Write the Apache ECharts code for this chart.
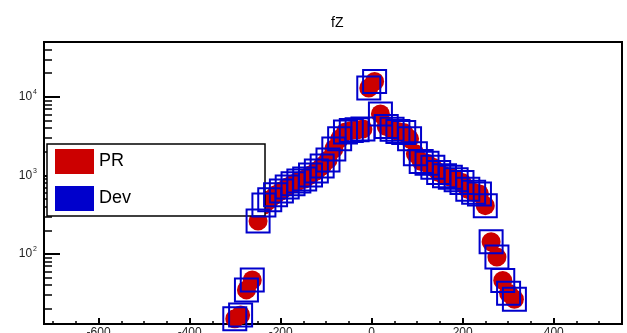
<!DOCTYPE html>
<html>
<head>
<meta charset="utf-8">
<script src="https://cdn.jsdelivr.net/npm/echarts@6/dist/echarts.min.js"></script>
<style>html,body{margin:0;padding:0;background:#fff}#c{width:627px;height:333px}</style>
</head>
<body>
<div id="c"></div>
<script>
// bin centres (fZ)
var binCenters = [-300.8, -288, -275.2, -262.4, -249.6, -236.8, -224, -211.2, -198.4, -185.6, -172.8, -160, -147.2, -134.4, -121.6, -108.8, -96, -83.2, -70.4, -57.6, -44.8, -32, -19.2, -6.4,
  6.4, 19.2, 32, 44.8, 57.6, 70.4, 83.2, 96, 108.8, 121.6, 134.4, 147.2, 160, 172.8, 185.6, 198.4, 211.2, 224, 236.8, 249.6, 262.4, 275.2, 288, 300.8, 313.6];
var prValues = [14.9, 16.7, 34.8, 46.6, 263, 420, 490, 565, 635, 714, 780, 851, 901, 1014, 1140, 1320, 1575, 2170, 2920, 3580, 3740, 3800, 3910, 13000,
  15700, 6070, 4190, 3880, 3620, 3510, 2920, 1880, 1500, 1430, 1270, 1086, 986, 949, 877, 810, 667, 611, 581, 412, 143, 91, 46, 31.6, 26.5];
var devValues = [14.9, 16.7, 34.8, 46.6, 263, 420, 490, 565, 635, 714, 780, 851, 901, 1014, 1140, 1320, 1575, 2170, 2920, 3580, 3740, 3800, 3910, 13000,
  15700, 6070, 4190, 3880, 3620, 3510, 2920, 1880, 1500, 1430, 1270, 1086, 986, 949, 877, 810, 667, 611, 581, 412, 143, 91, 46, 31.6, 26.5];
var xMajorTicks = [-600, -400, -200, 0, 200, 400];
var xMinorTicks = [-700, -650, -550, -500, -450, -350, -300, -250, -150, -100, -50, 50, 100, 150, 250, 300, 350, 450, 500, 550];
var yMajorTicks = [100, 1000, 10000];
var yMinorTicks = [20, 30, 40, 50, 60, 70, 80, 90, 200, 300, 400, 500, 600, 700, 800, 900, 2000, 3000, 4000, 5000, 6000, 7000, 8000, 9000, 20000, 30000, 40000];

var X_MIN = -720, X_MAX = 550, Y_MIN = 12.8, Y_MAX = 50000;
var FONT = 'Liberation Sans, Arial, sans-serif';

function pairs(xs, ys) { return xs.map(function (x, i) { return [x, ys[i]]; }); }

var chart = echarts.init(document.getElementById('c'), null, { renderer: 'canvas' });
chart.setOption({
  animation: false,
  backgroundColor: '#fff',
  title: {
    text: 'fZ', left: 326, top: 11,
    textStyle: { fontFamily: FONT, fontSize: 14, fontWeight: 'normal', color: '#000' }
  },
  grid: {
    left: 44, right: 5, top: 42, bottom: 9,
    show: true, borderColor: '#000', borderWidth: 2, backgroundColor: 'transparent',
    containLabel: false, outerBoundsMode: 'none'
  },
  legend: {
    orient: 'vertical', left: 47, top: 144,
    itemWidth: 39, itemHeight: 25, itemGap: 12,
    padding: [5, 134, 5, 8],
    backgroundColor: '#fff', borderColor: '#000', borderWidth: 1.5,
    textStyle: { fontFamily: FONT, fontSize: 18, color: '#000' },
    data: [
      { name: 'PR', icon: 'rect', itemStyle: { color: '#cc0000', borderWidth: 0 } },
      { name: 'Dev', icon: 'rect', itemStyle: { color: '#0000cc', borderWidth: 0 } }
    ]
  },
  xAxis: [{
    type: 'value', position: 'bottom', min: X_MIN, max: X_MAX,
    axisLine: { show: true, onZero: false, lineStyle: { color: '#000', width: 2 } },
    axisTick: { show: true, inside: true, length: 6, customValues: xMajorTicks, lineStyle: { color: '#000', width: 2 } },
    axisLabel: { show: true, customValues: xMajorTicks, margin: 3, fontFamily: FONT, fontSize: 12, color: '#222' },
    splitLine: { show: false }
  }, {
    type: 'value', position: 'bottom', min: X_MIN, max: X_MAX,
    axisLine: { show: false, onZero: false },
    axisTick: { show: true, inside: true, length: 3, customValues: xMinorTicks, lineStyle: { color: '#000', width: 1.5 } },
    axisLabel: { show: false },
    splitLine: { show: false }
  }],
  yAxis: [{
    type: 'log', logBase: 10, position: 'left', min: Y_MIN, max: Y_MAX,
    axisLine: { show: true, onZero: false, lineStyle: { color: '#000', width: 2 } },
    axisTick: { show: true, inside: true, length: 16, customValues: yMajorTicks, lineStyle: { color: '#000', width: 2 } },
    axisLabel: {
      show: true, customValues: yMajorTicks, margin: 7, fontFamily: FONT, fontSize: 12, color: '#222',
      formatter: function (v) { return '10{e|' + Math.round(Math.log10(v)) + '}'; },
      rich: { e: { fontSize: 7, fontFamily: FONT, color: '#222', padding: [0, 0, 9, 1] } }
    },
    splitLine: { show: false }
  }, {
    type: 'log', logBase: 10, position: 'left', min: Y_MIN, max: Y_MAX,
    axisLine: { show: false, onZero: false },
    axisTick: { show: true, inside: true, length: 8, customValues: yMinorTicks, lineStyle: { color: '#000', width: 1.5 } },
    axisLabel: { show: false },
    splitLine: { show: false }
  }],
  series: [{
    name: 'PR', type: 'scatter', xAxisIndex: 0, yAxisIndex: 0, clip: false,
    symbol: 'circle', symbolSize: 19,
    itemStyle: { color: '#cc0000', opacity: 1 },
    data: pairs(binCenters, prValues), z: 3
  }, {
    name: 'Dev', type: 'scatter', xAxisIndex: 0, yAxisIndex: 0, clip: false,
    symbol: 'rect', symbolSize: 23,
    itemStyle: { color: 'rgba(0,0,0,0)', borderColor: '#0000cc', borderWidth: 2, opacity: 1 },
    data: pairs(binCenters, devValues), z: 4
  }]
});
</script>
</body>
</html>
